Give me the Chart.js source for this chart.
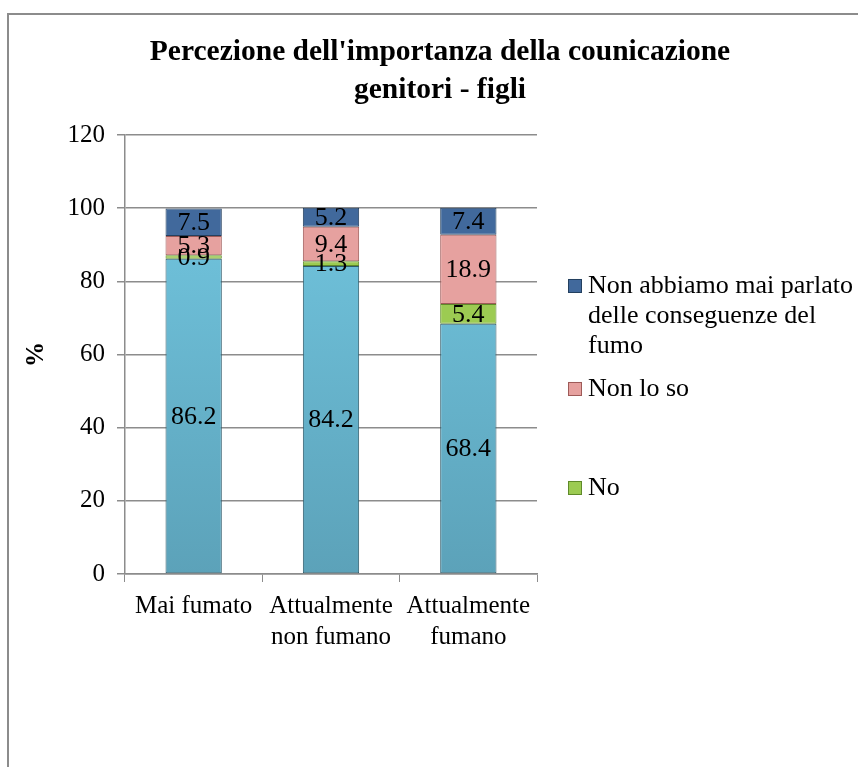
<!DOCTYPE html>
<html>
<head>
<meta charset="utf-8">
<script src="https://cdn.jsdelivr.net/npm/chart.js@4"></script>
<style>
  body { margin: 0; background: #fff; }
  #cornice { position: absolute; left: 7px; top: 13px; width: 900px; height: 800px; border: 2px solid #8c8c8c; }
  #wrap { position: absolute; left: 0; top: 0; width: 858px; height: 767px; }
</style>
</head>
<body>
<div id="cornice"></div>
<div id="wrap"><canvas id="grafico"></canvas></div>
<script>
// categorie e serie (valori in %)
var categorie = [['Mai fumato'], ['Attualmente', 'non fumano'], ['Attualmente', 'fumano']];
var si = [86.2, 84.2, 68.4];
var no = [0.9, 1.3, 5.4];
var nonLoSo = [5.3, 9.4, 18.9];
var maiParlato = [7.5, 5.2, 7.4];
var tickY = [0, 20, 40, 60, 80, 100, 120];

var serif = "'Liberation Serif', 'Times New Roman', serif";
Chart.defaults.font.family = serif;
Chart.defaults.font.size = 25;
Chart.defaults.color = '#000';

// sfumatura per l'azzurro
function azzurro(context) {
  var area = context.chart.chartArea;
  if (!area) return '#6ec4de';
  var g = context.chart.ctx.createLinearGradient(0, area.top, 0, area.bottom);
  g.addColorStop(0, '#74cae4');
  g.addColorStop(1, '#5ca2b9');
  return g;
}

// etichette dei valori al centro dei segmenti
var etichette = {
  id: 'etichette',
  afterDatasetsDraw: function(chart) {
    var ctx = chart.ctx;
    ctx.save();
    ctx.font = '26px ' + serif;
    ctx.fillStyle = '#000';
    ctx.textAlign = 'center';
    ctx.textBaseline = 'middle';
    chart.data.datasets.forEach(function(ds, i) {
      chart.getDatasetMeta(i).data.forEach(function(bar, j) {
        ctx.fillText(ds.data[j].toFixed(1), bar.x, (bar.y + bar.base) / 2 + 1);
      });
    });
    ctx.restore();
  }
};

// legenda disegnata a mano (testo su piu righe)
var legenda = {
  id: 'legenda',
  afterDraw: function(chart) {
    var ctx = chart.ctx;
    var x = chart.chartArea.right + 31;
    var voci = [
      { ds: 3, righe: ['Non abbiamo mai parlato', 'delle conseguenze del', 'fumo'], y: 151 },
      { ds: 2, righe: ['Non lo so'], y: 254 },
      { ds: 1, righe: ['No'], y: 353 }
    ];
    ctx.save();
    ctx.font = '26px ' + serif;
    ctx.textBaseline = 'middle';
    voci.forEach(function(v) {
      var ds = chart.data.datasets[v.ds];
      var y = chart.chartArea.top + v.y;
      ctx.fillStyle = ds.legendColor;
      ctx.fillRect(x, y - 7, 14, 14);
      ctx.strokeStyle = ds.borderColor;
      ctx.lineWidth = 1;
      ctx.strokeRect(x + 0.5, y - 6.5, 13, 13);
      ctx.fillStyle = '#000';
      v.righe.forEach(function(r, k) {
        ctx.fillText(r, x + 20, y + k * 30);
      });
    });
    ctx.restore();
  }
};

function grafico() {
  var ctx = document.getElementById('grafico');
  new Chart(ctx, {
    type: 'bar',
    data: {
      labels: categorie,
      datasets: [
        { label: 'Sì', data: si, backgroundColor: azzurro, legendColor: '#6ec4de', borderColor: '#2f5b6b' },
        { label: 'No', data: no, backgroundColor: '#9ccb52', legendColor: '#9ccb52', borderColor: '#5f8a2a' },
        { label: 'Non lo so', data: nonLoSo, backgroundColor: '#e6a19f', legendColor: '#e6a19f', borderColor: '#9e5a58' },
        { label: 'Non abbiamo mai parlato delle conseguenze del fumo', data: maiParlato, backgroundColor: '#41699c', legendColor: '#41699c', borderColor: '#24405f' }
      ]
    },
    options: {
      responsive: false,
      animation: false,
      layout: { padding: { left: 22, top: 0, right: 0, bottom: 0 } },
      datasets: {
        bar: { categoryPercentage: 1, barPercentage: 0.41, borderWidth: 1, borderSkipped: false }
      },
      scales: {
        x: {
          stacked: true,
          grid: { drawOnChartArea: false, tickLength: 8, color: '#8c8c8c' },
          border: { color: '#8c8c8c', width: 1.5 },
          ticks: { maxRotation: 0, padding: 9, font: { size: 25, lineHeight: 1.25 } },
          afterFit: function(s) { s.height = 193; }
        },
        y: {
          stacked: true,
          min: 0,
          max: 120,
          afterBuildTicks: function(s) { s.ticks = tickY.map(function(v) { return { value: v }; }); },
          grid: { color: '#8c8c8c', lineWidth: 1.5, tickLength: 8 },
          border: { color: '#8c8c8c', width: 1.5 },
          ticks: { padding: 12, font: { size: 25 } },
          title: { display: true, text: '%', font: { size: 25, weight: 'bold' }, padding: 0 },
          afterFit: function(s) { s.width = 103; }
        },
        destra: {
          position: 'right',
          min: 0,
          max: 120,
          grid: { display: false },
          border: { display: false },
          ticks: { display: false },
          afterFit: function(s) { s.width = 321; }
        }
      },
      plugins: {
        legend: { display: false },
        tooltip: { enabled: false },
        title: {
          display: true,
          text: ["Percezione dell'importanza della counicazione", 'genitori - figli'],
          font: { size: 29.5, weight: 'bold', lineHeight: 1.288 },
          padding: { top: 33, bottom: 26 }
        }
      }
    },
    plugins: [etichette, legenda]
  });
}

document.getElementById('grafico').width = 858;
document.getElementById('grafico').height = 767;
window.onload = function() {
  grafico();
};
</script>
</body>
</html>
